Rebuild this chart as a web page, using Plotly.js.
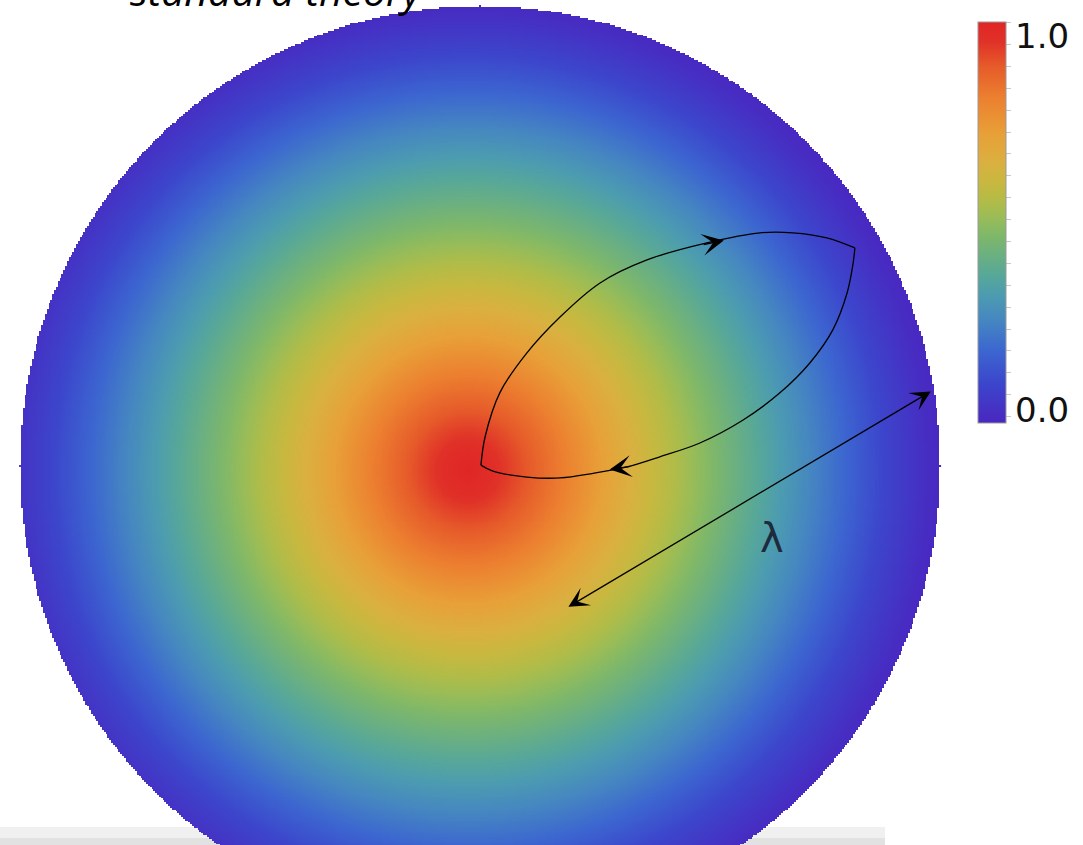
<!DOCTYPE html>
<html>
<head>
<meta charset="utf-8">
<script src="https://cdn.plot.ly/plotly-3.0.1.min.js"></script>
<style>
  html, body { margin: 0; padding: 0; background: #ffffff; }
  #chart { width: 1083px; height: 845px; }
</style>
</head>
<body>
<div id="chart"></div>
<script>
// Radial profile of the normalised field, distance measured from the peak in disk radii
const profileRadius = [0, 0.05, 0.09, 0.15, 0.22, 0.3, 0.4, 0.5, 0.6, 0.7, 0.8, 0.9, 1.0, 1.05];
const profileLevel  = [1.0, 0.97, 0.93, 0.87, 0.8, 0.71, 0.6, 0.5, 0.4, 0.3, 0.2, 0.1, 0.02, 0.0];

// Peak of the field (disk coordinates, unit radius)
const peakCenter = [-0.026, -0.009];

// Colour scale of the field
const scaleStops  = [0.0, 0.1, 0.18, 0.26, 0.32, 0.37, 0.42, 0.47, 0.51, 0.55, 0.6, 0.65, 0.72, 0.81, 0.89, 0.95, 1.0];
const scaleColors = ['#4a26c0', '#3c46cc', '#3c66d0', '#4688c0', '#4c9cb0', '#58a898', '#6cb080', '#80b868',
                     '#98bc58', '#b0bc48', '#c8b840', '#dab040', '#e8a038', '#ec8030', '#e65a2a', '#e03228', '#e02626'];

// Closed orbit inside the disk (unit radius coordinates): upper branch, then lower branch back
const upperU = [0.002, 0.011, 0.043, 0.102, 0.174, 0.261, 0.363, 0.493, 0.609, 0.680, 0.754, 0.815];
const upperV = [0.002, 0.063, 0.159, 0.246, 0.324, 0.398, 0.448, 0.485, 0.507, 0.507, 0.496, 0.474];
const lowerU = [0.815, 0.811, 0.798, 0.767, 0.717, 0.652, 0.572, 0.478, 0.391, 0.320, 0.246, 0.174, 0.102, 0.028, 0.002];
const lowerV = [0.474, 0.440, 0.376, 0.296, 0.224, 0.159, 0.100, 0.050, 0.020, -0.002, -0.016, -0.026, -0.024, -0.011, 0.002];

// Direction arrows on the orbit: [tipU, tipV, tailU, tailV]
const orbitArrows = [
  [0.530, 0.490, 0.483, 0.481],
  [0.282, -0.0075, 0.330, -0.0002]
];

// Length scale marker: two ends of the double arrow
const lambdaStart = [0.189, -0.308];
const lambdaEnd   = [0.980, 0.162];
const lambdaLabelPos = [0.635, -0.157];

// Colour bar labels
const barLabels = ['1.0', '0.0'];

// ---- field on a regular grid, masked to the unit disk ----
function levelAt(d) {
  if (d <= profileRadius[0]) return profileLevel[0];
  for (let k = 1; k < profileRadius.length; k++) {
    if (d <= profileRadius[k]) {
      const t = (d - profileRadius[k - 1]) / (profileRadius[k] - profileRadius[k - 1]);
      return profileLevel[k - 1] + t * (profileLevel[k] - profileLevel[k - 1]);
    }
  }
  return profileLevel[profileLevel.length - 1];
}

const step = 0.004;
const gx = [], gy = [];
for (let i = 0; i <= 500; i++) gx.push(+(-1.0 + i * step).toFixed(4));
for (let j = 0; j <= 470; j++) gy.push(+(-0.84 + j * step).toFixed(4));

const gz = gy.map(v => gx.map(u => {
  if (u * u + v * v > 1.0) return null;
  const d = Math.hypot(u - peakCenter[0], v - peakCenter[1]);
  return levelAt(d);
}));

const colorscale = scaleStops.map((s, k) => [s, scaleColors[k]]);

// ---- layout geometry (pixels) ----
const W = 1083, H = 845;
const plotW = 960;              // plot area width; right margin hosts the colour bar
const pxPerUnit = 460;
const diskCx = 480, diskCy = 466;
const xRange = [-diskCx / pxPerUnit, (plotW - diskCx) / pxPerUnit];
const yRange = [-(H - diskCy) / pxPerUnit, diskCy / pxPerUnit];
const px2paperX = p => p / plotW;
const px2paperY = p => (H - p) / H;

const orbitLine = { color: '#000000', width: 1.3, shape: 'spline', smoothing: 1.0 };

const traces = [
  {
    type: 'heatmap',
    x: gx, y: gy, z: gz,
    zmin: 0, zmax: 1,
    zsmooth: false,
    colorscale: colorscale,
    hoverinfo: 'skip',
    colorbar: {
      x: px2paperX(978), xanchor: 'left',
      y: px2paperY(22), yanchor: 'top',
      len: 401, lenmode: 'pixels',
      thickness: 28, thicknessmode: 'pixels',
      xpad: 0, ypad: 0,
      outlinewidth: 1, outlinecolor: '#9a9a9a',
      ticks: 'outside', ticklen: 5, tickwidth: 1, tickcolor: '#c9c9c9',
      tick0: 0.125, dtick: 0.0546,
      showticklabels: false
    }
  },
  { type: 'scatter', mode: 'lines', x: upperU, y: upperV, line: orbitLine, hoverinfo: 'skip', showlegend: false },
  { type: 'scatter', mode: 'lines', x: lowerU, y: lowerV, line: orbitLine, hoverinfo: 'skip', showlegend: false }
];

const annotations = [];

orbitArrows.forEach(a => annotations.push({
  x: a[0], y: a[1], ax: a[2], ay: a[3],
  xref: 'x', yref: 'y', axref: 'x', ayref: 'y',
  text: '', showarrow: true,
  arrowhead: 3, arrowsize: 2.6, arrowwidth: 1.4, arrowcolor: '#000000'
}));

annotations.push({
  x: lambdaEnd[0], y: lambdaEnd[1], ax: lambdaStart[0], ay: lambdaStart[1],
  xref: 'x', yref: 'y', axref: 'x', ayref: 'y',
  text: '', showarrow: true, arrowside: 'end+start',
  arrowhead: 3, startarrowhead: 3, arrowsize: 2.6, startarrowsize: 2.6,
  arrowwidth: 1.3, arrowcolor: '#000000'
});

annotations.push({
  x: lambdaLabelPos[0], y: lambdaLabelPos[1], xref: 'x', yref: 'y',
  text: 'λ', showarrow: false, xanchor: 'center', yanchor: 'middle',
  font: { family: 'DejaVu Sans', size: 40, color: '#1d2b3c' }
});

annotations.push({
  x: px2paperX(276), y: px2paperY(20), xref: 'paper', yref: 'paper',
  text: '<i>standard theory</i>', showarrow: false, xanchor: 'center', yanchor: 'bottom',
  font: { family: 'Open Sans', size: 41, color: '#000000' }
});

annotations.push({
  x: px2paperX(1013), y: px2paperY(36), xref: 'paper', yref: 'paper',
  text: barLabels[0], showarrow: false, xanchor: 'left', yanchor: 'middle',
  font: { family: 'DejaVu Sans', size: 34, color: '#111111' }
});
annotations.push({
  x: px2paperX(1013), y: px2paperY(410), xref: 'paper', yref: 'paper',
  text: barLabels[1], showarrow: false, xanchor: 'left', yanchor: 'middle',
  font: { family: 'DejaVu Sans', size: 34, color: '#111111' }
});

const layout = {
  width: W, height: H,
  margin: { l: 0, r: W - plotW, t: 0, b: 0, pad: 0 },
  paper_bgcolor: '#ffffff',
  plot_bgcolor: 'rgba(0,0,0,0)',
  showlegend: false,
  xaxis: { range: xRange, visible: false, fixedrange: true },
  yaxis: { range: yRange, visible: false, fixedrange: true },
  annotations: annotations,
  shapes: [
    { type: 'rect', xref: 'paper', yref: 'paper', layer: 'below',
      x0: 0, x1: px2paperX(885), y0: px2paperY(838), y1: px2paperY(827),
      fillcolor: '#f0f0f0', line: { width: 0 } },
    { type: 'rect', xref: 'paper', yref: 'paper', layer: 'below',
      x0: 0, x1: px2paperX(885), y0: 0, y1: px2paperY(838),
      fillcolor: '#e2e2e2', line: { width: 0 } }
  ]
};

Plotly.newPlot('chart', traces, layout, { staticPlot: true, displayModeBar: false });
</script>
</body>
</html>
